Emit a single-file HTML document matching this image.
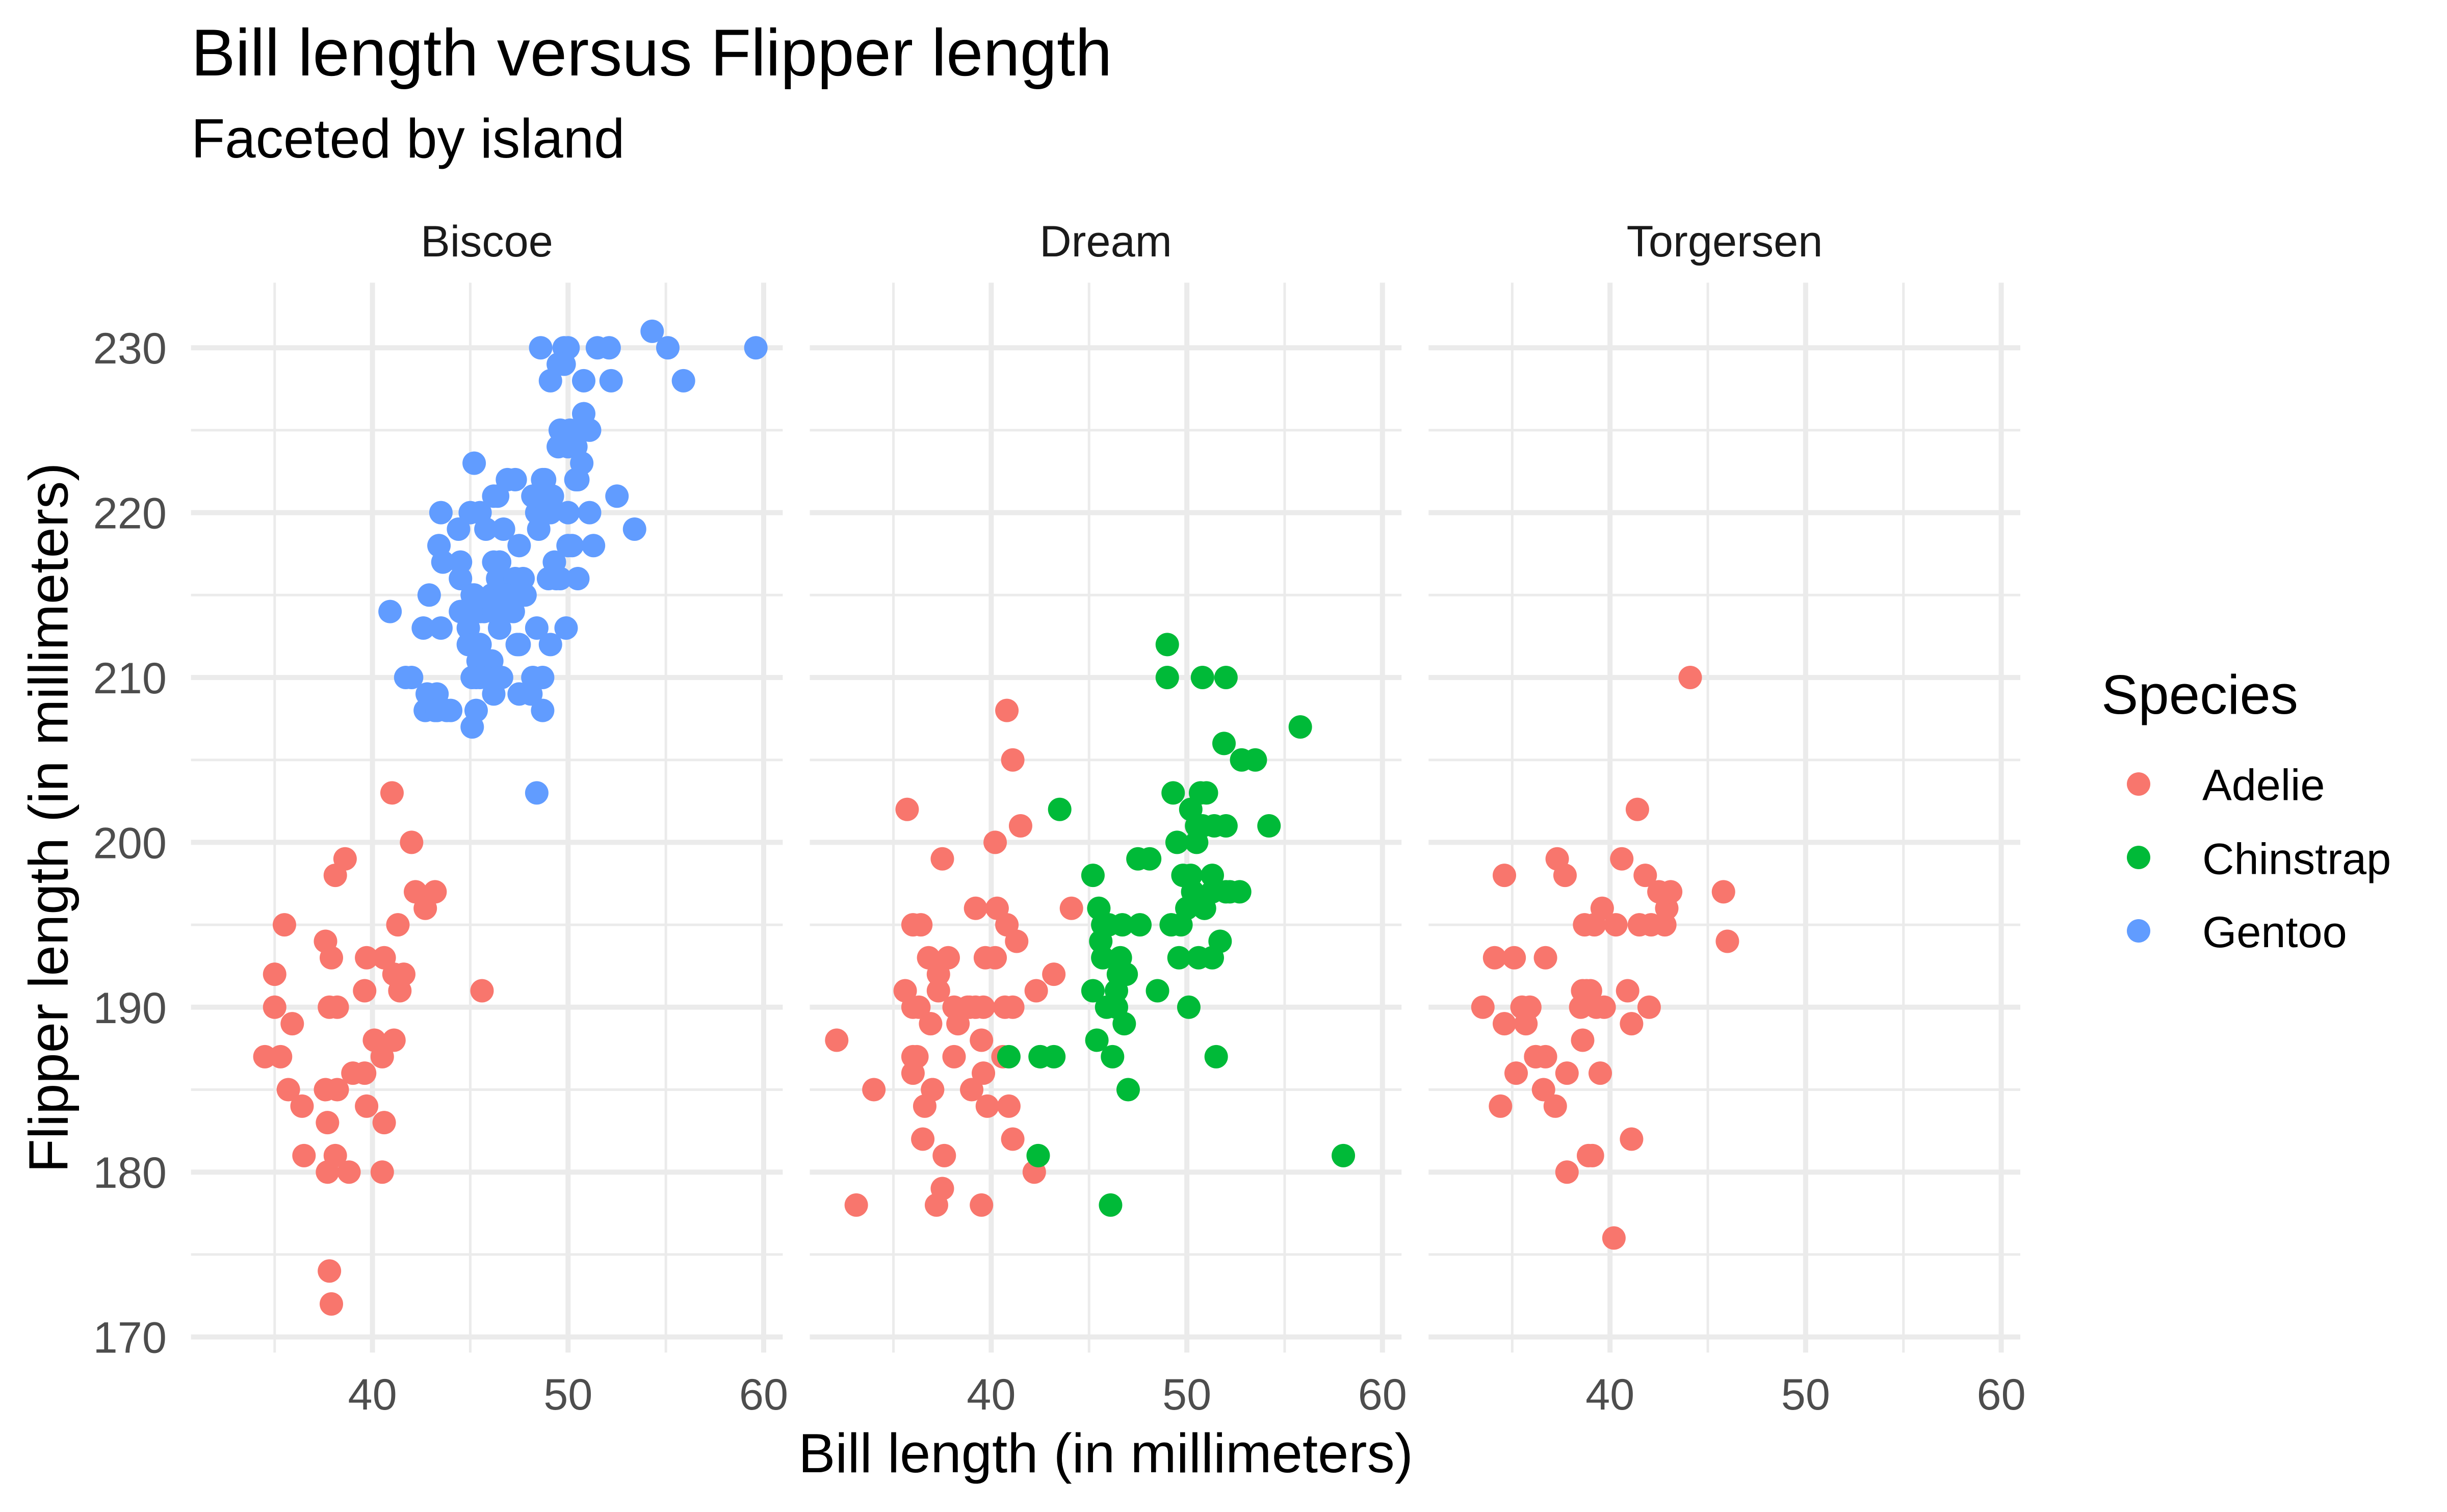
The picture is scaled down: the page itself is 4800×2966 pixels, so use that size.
<!DOCTYPE html>
<html>
<head>
<meta charset="utf-8">
<style>
html,body{margin:0;padding:0;background:#fff;}
svg{display:block;}
text{font-family:"Liberation Sans",Arial,Helvetica,sans-serif;}
</style>
</head>
<body>
<svg width="4800" height="2966" viewBox="0 0 4800 2966" xmlns="http://www.w3.org/2000/svg" xmlns:xlink="http://www.w3.org/1999/xlink">
<rect width="4800" height="2966" fill="#fff"/>
<defs>
<g id="grid" fill="none" stroke="#ebebeb">
<path stroke-width="5" d="M374.7 843.9H1535.4M374.7 1167.3H1535.4M374.7 1490.7H1535.4M374.7 1814.1H1535.4M374.7 2137.5H1535.4M374.7 2460.9H1535.4M538.75 554.5V2653.2M922.45 554.5V2653.2M1306.15 554.5V2653.2"/>
<path stroke-width="10" d="M374.7 682.2H1535.4M374.7 1005.6H1535.4M374.7 1329H1535.4M374.7 1652.4H1535.4M374.7 1975.8H1535.4M374.7 2299.2H1535.4M374.7 2622.6H1535.4M730.6 554.5V2653.2M1114.3 554.5V2653.2M1498 554.5V2653.2"/>
</g>
</defs>
<use href="#grid" xlink:href="#grid" x="0" y="0"/>
<use href="#grid" xlink:href="#grid" x="1213.8" y="0"/>
<use href="#grid" xlink:href="#grid" x="2427.6" y="0"/>

<text x="375" y="148" font-size="130" fill="#000">Bill length versus Flipper length</text>
<text x="375" y="309" font-size="108.5" fill="#000">Faceted by island</text>

<g font-size="86.5" fill="#1a1a1a" text-anchor="middle">
<text x="955" y="503">Biscoe</text>
<text x="2169" y="503">Dream</text>
<text x="3383" y="503">Torgersen</text>
</g>

<g font-size="86.5" fill="#4d4d4d" text-anchor="end">
<text x="327" y="713.2">230</text>
<text x="327" y="1036.6">220</text>
<text x="327" y="1360">210</text>
<text x="327" y="1683.4">200</text>
<text x="327" y="2006.8">190</text>
<text x="327" y="2330.2">180</text>
<text x="327" y="2653.6">170</text>
</g>

<g font-size="86.5" fill="#4d4d4d" text-anchor="middle">
<text x="730.6" y="2765">40</text>
<text x="1114.3" y="2765">50</text>
<text x="1498" y="2765">60</text>
<text x="1944.4" y="2765">40</text>
<text x="2328.1" y="2765">50</text>
<text x="2711.8" y="2765">60</text>
<text x="3158.2" y="2765">40</text>
<text x="3541.9" y="2765">50</text>
<text x="3925.6" y="2765">60</text>
</g>

<text x="2169" y="2888" font-size="108.5" fill="#000" text-anchor="middle">Bill length (in millimeters)</text>
<text transform="translate(132.7,1604) rotate(-90)" x="0" y="0" font-size="108.5" fill="#000" text-anchor="middle">Flipper length (in millimeters)</text>

<text x="4122" y="1400" font-size="108.5" fill="#000">Species</text>
<circle cx="4195" cy="1538" r="23" fill="#F8766D"/>
<circle cx="4195" cy="1682" r="23" fill="#00BA38"/>
<circle cx="4195" cy="1826" r="23" fill="#619CFF"/>
<g font-size="86.5" fill="#000">
<text x="4320" y="1569.6">Adelie</text>
<text x="4320" y="1714.3">Chinstrap</text>
<text x="4320" y="1858">Gentoo</text>
</g>

<g transform="matrix(38.37 0 0 -32.34 -804.2 8120.4)">
<g fill="#F8766D">
<ellipse cx="37.8" cy="174" rx=".5994" ry=".7112"/>
<ellipse cx="37.7" cy="180" rx=".5994" ry=".7112"/>
<ellipse cx="35.9" cy="189" rx=".5994" ry=".7112"/>
<ellipse cx="38.2" cy="185" rx=".5994" ry=".7112"/>
<ellipse cx="38.8" cy="180" rx=".5994" ry=".7112"/>
<ellipse cx="35.3" cy="187" rx=".5994" ry=".7112"/>
<ellipse cx="40.6" cy="183" rx=".5994" ry=".7112"/>
<ellipse cx="40.5" cy="187" rx=".5994" ry=".7112"/>
<ellipse cx="37.9" cy="172" rx=".5994" ry=".7112"/>
<ellipse cx="40.5" cy="180" rx=".5994" ry=".7112"/>
<ellipse cx="39.6" cy="186" rx=".5994" ry=".7112"/>
<ellipse cx="40.1" cy="188" rx=".5994" ry=".7112"/>
<ellipse cx="35.0" cy="190" rx=".5994" ry=".7112"/>
<ellipse cx="42.0" cy="200" rx=".5994" ry=".7112"/>
<ellipse cx="34.5" cy="187" rx=".5994" ry=".7112"/>
<ellipse cx="41.4" cy="191" rx=".5994" ry=".7112"/>
<ellipse cx="39.0" cy="186" rx=".5994" ry=".7112"/>
<ellipse cx="40.6" cy="193" rx=".5994" ry=".7112"/>
<ellipse cx="36.5" cy="181" rx=".5994" ry=".7112"/>
<ellipse cx="37.6" cy="194" rx=".5994" ry=".7112"/>
<ellipse cx="35.7" cy="185" rx=".5994" ry=".7112"/>
<ellipse cx="41.3" cy="195" rx=".5994" ry=".7112"/>
<ellipse cx="37.6" cy="185" rx=".5994" ry=".7112"/>
<ellipse cx="41.1" cy="192" rx=".5994" ry=".7112"/>
<ellipse cx="36.4" cy="184" rx=".5994" ry=".7112"/>
<ellipse cx="41.6" cy="192" rx=".5994" ry=".7112"/>
<ellipse cx="35.5" cy="195" rx=".5994" ry=".7112"/>
<ellipse cx="41.1" cy="188" rx=".5994" ry=".7112"/>
<ellipse cx="35.0" cy="192" rx=".5994" ry=".7112"/>
<ellipse cx="41.0" cy="203" rx=".5994" ry=".7112"/>
<ellipse cx="37.7" cy="183" rx=".5994" ry=".7112"/>
<ellipse cx="37.8" cy="190" rx=".5994" ry=".7112"/>
<ellipse cx="37.9" cy="193" rx=".5994" ry=".7112"/>
<ellipse cx="39.7" cy="184" rx=".5994" ry=".7112"/>
<ellipse cx="38.6" cy="199" rx=".5994" ry=".7112"/>
<ellipse cx="38.2" cy="190" rx=".5994" ry=".7112"/>
<ellipse cx="38.1" cy="181" rx=".5994" ry=".7112"/>
<ellipse cx="43.2" cy="197" rx=".5994" ry=".7112"/>
<ellipse cx="38.1" cy="198" rx=".5994" ry=".7112"/>
<ellipse cx="45.6" cy="191" rx=".5994" ry=".7112"/>
<ellipse cx="39.7" cy="193" rx=".5994" ry=".7112"/>
<ellipse cx="42.2" cy="197" rx=".5994" ry=".7112"/>
<ellipse cx="39.6" cy="191" rx=".5994" ry=".7112"/>
<ellipse cx="42.7" cy="196" rx=".5994" ry=".7112"/>
</g>
<g fill="#619CFF">
<ellipse cx="46.1" cy="211" rx=".5994" ry=".7112"/>
<ellipse cx="50.0" cy="230" rx=".5994" ry=".7112"/>
<ellipse cx="48.7" cy="210" rx=".5994" ry=".7112"/>
<ellipse cx="50.0" cy="218" rx=".5994" ry=".7112"/>
<ellipse cx="47.6" cy="215" rx=".5994" ry=".7112"/>
<ellipse cx="46.5" cy="210" rx=".5994" ry=".7112"/>
<ellipse cx="45.4" cy="211" rx=".5994" ry=".7112"/>
<ellipse cx="46.7" cy="219" rx=".5994" ry=".7112"/>
<ellipse cx="43.3" cy="209" rx=".5994" ry=".7112"/>
<ellipse cx="46.8" cy="215" rx=".5994" ry=".7112"/>
<ellipse cx="40.9" cy="214" rx=".5994" ry=".7112"/>
<ellipse cx="49.0" cy="216" rx=".5994" ry=".7112"/>
<ellipse cx="45.5" cy="214" rx=".5994" ry=".7112"/>
<ellipse cx="48.4" cy="213" rx=".5994" ry=".7112"/>
<ellipse cx="45.8" cy="210" rx=".5994" ry=".7112"/>
<ellipse cx="49.3" cy="217" rx=".5994" ry=".7112"/>
<ellipse cx="42.0" cy="210" rx=".5994" ry=".7112"/>
<ellipse cx="49.2" cy="221" rx=".5994" ry=".7112"/>
<ellipse cx="46.2" cy="209" rx=".5994" ry=".7112"/>
<ellipse cx="48.7" cy="222" rx=".5994" ry=".7112"/>
<ellipse cx="50.2" cy="218" rx=".5994" ry=".7112"/>
<ellipse cx="45.1" cy="215" rx=".5994" ry=".7112"/>
<ellipse cx="46.5" cy="213" rx=".5994" ry=".7112"/>
<ellipse cx="46.3" cy="215" rx=".5994" ry=".7112"/>
<ellipse cx="42.9" cy="215" rx=".5994" ry=".7112"/>
<ellipse cx="46.1" cy="215" rx=".5994" ry=".7112"/>
<ellipse cx="44.5" cy="216" rx=".5994" ry=".7112"/>
<ellipse cx="47.8" cy="215" rx=".5994" ry=".7112"/>
<ellipse cx="48.2" cy="210" rx=".5994" ry=".7112"/>
<ellipse cx="50.0" cy="220" rx=".5994" ry=".7112"/>
<ellipse cx="47.3" cy="222" rx=".5994" ry=".7112"/>
<ellipse cx="42.8" cy="209" rx=".5994" ry=".7112"/>
<ellipse cx="45.1" cy="207" rx=".5994" ry=".7112"/>
<ellipse cx="59.6" cy="230" rx=".5994" ry=".7112"/>
<ellipse cx="49.1" cy="220" rx=".5994" ry=".7112"/>
<ellipse cx="48.4" cy="220" rx=".5994" ry=".7112"/>
<ellipse cx="42.6" cy="213" rx=".5994" ry=".7112"/>
<ellipse cx="44.4" cy="219" rx=".5994" ry=".7112"/>
<ellipse cx="44.0" cy="208" rx=".5994" ry=".7112"/>
<ellipse cx="48.7" cy="208" rx=".5994" ry=".7112"/>
<ellipse cx="42.7" cy="208" rx=".5994" ry=".7112"/>
<ellipse cx="49.6" cy="225" rx=".5994" ry=".7112"/>
<ellipse cx="45.3" cy="210" rx=".5994" ry=".7112"/>
<ellipse cx="49.6" cy="216" rx=".5994" ry=".7112"/>
<ellipse cx="50.5" cy="222" rx=".5994" ry=".7112"/>
<ellipse cx="43.6" cy="217" rx=".5994" ry=".7112"/>
<ellipse cx="45.5" cy="210" rx=".5994" ry=".7112"/>
<ellipse cx="50.5" cy="225" rx=".5994" ry=".7112"/>
<ellipse cx="44.9" cy="213" rx=".5994" ry=".7112"/>
<ellipse cx="45.2" cy="215" rx=".5994" ry=".7112"/>
<ellipse cx="46.6" cy="210" rx=".5994" ry=".7112"/>
<ellipse cx="48.5" cy="220" rx=".5994" ry=".7112"/>
<ellipse cx="45.1" cy="210" rx=".5994" ry=".7112"/>
<ellipse cx="50.1" cy="225" rx=".5994" ry=".7112"/>
<ellipse cx="46.5" cy="217" rx=".5994" ry=".7112"/>
<ellipse cx="45.0" cy="220" rx=".5994" ry=".7112"/>
<ellipse cx="43.8" cy="208" rx=".5994" ry=".7112"/>
<ellipse cx="45.5" cy="220" rx=".5994" ry=".7112"/>
<ellipse cx="43.2" cy="208" rx=".5994" ry=".7112"/>
<ellipse cx="50.4" cy="224" rx=".5994" ry=".7112"/>
<ellipse cx="45.3" cy="208" rx=".5994" ry=".7112"/>
<ellipse cx="46.2" cy="221" rx=".5994" ry=".7112"/>
<ellipse cx="45.7" cy="214" rx=".5994" ry=".7112"/>
<ellipse cx="54.3" cy="231" rx=".5994" ry=".7112"/>
<ellipse cx="45.8" cy="219" rx=".5994" ry=".7112"/>
<ellipse cx="49.8" cy="230" rx=".5994" ry=".7112"/>
<ellipse cx="46.2" cy="214" rx=".5994" ry=".7112"/>
<ellipse cx="49.5" cy="229" rx=".5994" ry=".7112"/>
<ellipse cx="43.5" cy="220" rx=".5994" ry=".7112"/>
<ellipse cx="50.7" cy="223" rx=".5994" ry=".7112"/>
<ellipse cx="47.7" cy="216" rx=".5994" ry=".7112"/>
<ellipse cx="46.4" cy="221" rx=".5994" ry=".7112"/>
<ellipse cx="48.2" cy="221" rx=".5994" ry=".7112"/>
<ellipse cx="46.5" cy="217" rx=".5994" ry=".7112"/>
<ellipse cx="46.4" cy="216" rx=".5994" ry=".7112"/>
<ellipse cx="48.6" cy="230" rx=".5994" ry=".7112"/>
<ellipse cx="47.5" cy="209" rx=".5994" ry=".7112"/>
<ellipse cx="51.1" cy="220" rx=".5994" ry=".7112"/>
<ellipse cx="45.2" cy="215" rx=".5994" ry=".7112"/>
<ellipse cx="45.2" cy="223" rx=".5994" ry=".7112"/>
<ellipse cx="49.1" cy="212" rx=".5994" ry=".7112"/>
<ellipse cx="52.5" cy="221" rx=".5994" ry=".7112"/>
<ellipse cx="47.4" cy="212" rx=".5994" ry=".7112"/>
<ellipse cx="50.0" cy="224" rx=".5994" ry=".7112"/>
<ellipse cx="44.9" cy="212" rx=".5994" ry=".7112"/>
<ellipse cx="50.8" cy="228" rx=".5994" ry=".7112"/>
<ellipse cx="43.4" cy="218" rx=".5994" ry=".7112"/>
<ellipse cx="51.3" cy="218" rx=".5994" ry=".7112"/>
<ellipse cx="47.5" cy="212" rx=".5994" ry=".7112"/>
<ellipse cx="52.1" cy="230" rx=".5994" ry=".7112"/>
<ellipse cx="47.5" cy="218" rx=".5994" ry=".7112"/>
<ellipse cx="52.2" cy="228" rx=".5994" ry=".7112"/>
<ellipse cx="45.5" cy="212" rx=".5994" ry=".7112"/>
<ellipse cx="49.5" cy="224" rx=".5994" ry=".7112"/>
<ellipse cx="44.5" cy="214" rx=".5994" ry=".7112"/>
<ellipse cx="50.8" cy="226" rx=".5994" ry=".7112"/>
<ellipse cx="49.4" cy="216" rx=".5994" ry=".7112"/>
<ellipse cx="46.9" cy="222" rx=".5994" ry=".7112"/>
<ellipse cx="48.4" cy="203" rx=".5994" ry=".7112"/>
<ellipse cx="51.1" cy="225" rx=".5994" ry=".7112"/>
<ellipse cx="48.5" cy="219" rx=".5994" ry=".7112"/>
<ellipse cx="55.9" cy="228" rx=".5994" ry=".7112"/>
<ellipse cx="47.2" cy="215" rx=".5994" ry=".7112"/>
<ellipse cx="49.1" cy="228" rx=".5994" ry=".7112"/>
<ellipse cx="47.3" cy="216" rx=".5994" ry=".7112"/>
<ellipse cx="46.8" cy="215" rx=".5994" ry=".7112"/>
<ellipse cx="41.7" cy="210" rx=".5994" ry=".7112"/>
<ellipse cx="53.4" cy="219" rx=".5994" ry=".7112"/>
<ellipse cx="43.3" cy="208" rx=".5994" ry=".7112"/>
<ellipse cx="48.1" cy="209" rx=".5994" ry=".7112"/>
<ellipse cx="50.5" cy="216" rx=".5994" ry=".7112"/>
<ellipse cx="49.8" cy="229" rx=".5994" ry=".7112"/>
<ellipse cx="43.5" cy="213" rx=".5994" ry=".7112"/>
<ellipse cx="51.5" cy="230" rx=".5994" ry=".7112"/>
<ellipse cx="46.2" cy="217" rx=".5994" ry=".7112"/>
<ellipse cx="55.1" cy="230" rx=".5994" ry=".7112"/>
<ellipse cx="44.5" cy="217" rx=".5994" ry=".7112"/>
<ellipse cx="48.8" cy="222" rx=".5994" ry=".7112"/>
<ellipse cx="47.2" cy="214" rx=".5994" ry=".7112"/>
<ellipse cx="46.8" cy="215" rx=".5994" ry=".7112"/>
<ellipse cx="50.4" cy="222" rx=".5994" ry=".7112"/>
<ellipse cx="45.2" cy="212" rx=".5994" ry=".7112"/>
<ellipse cx="49.9" cy="213" rx=".5994" ry=".7112"/>
</g>
</g>

<g transform="matrix(38.37 0 0 -32.34 409.6 8120.4)">
<g fill="#F8766D">
<ellipse cx="39.5" cy="178" rx=".5994" ry=".7112"/>
<ellipse cx="37.2" cy="178" rx=".5994" ry=".7112"/>
<ellipse cx="39.5" cy="188" rx=".5994" ry=".7112"/>
<ellipse cx="40.9" cy="184" rx=".5994" ry=".7112"/>
<ellipse cx="36.4" cy="195" rx=".5994" ry=".7112"/>
<ellipse cx="39.2" cy="196" rx=".5994" ry=".7112"/>
<ellipse cx="38.8" cy="190" rx=".5994" ry=".7112"/>
<ellipse cx="42.2" cy="180" rx=".5994" ry=".7112"/>
<ellipse cx="37.6" cy="181" rx=".5994" ry=".7112"/>
<ellipse cx="39.8" cy="184" rx=".5994" ry=".7112"/>
<ellipse cx="36.5" cy="182" rx=".5994" ry=".7112"/>
<ellipse cx="40.8" cy="195" rx=".5994" ry=".7112"/>
<ellipse cx="36.0" cy="186" rx=".5994" ry=".7112"/>
<ellipse cx="44.1" cy="196" rx=".5994" ry=".7112"/>
<ellipse cx="37.0" cy="185" rx=".5994" ry=".7112"/>
<ellipse cx="39.6" cy="190" rx=".5994" ry=".7112"/>
<ellipse cx="41.1" cy="182" rx=".5994" ry=".7112"/>
<ellipse cx="37.5" cy="179" rx=".5994" ry=".7112"/>
<ellipse cx="36.0" cy="190" rx=".5994" ry=".7112"/>
<ellipse cx="42.3" cy="191" rx=".5994" ry=".7112"/>
<ellipse cx="37.3" cy="192" rx=".5994" ry=".7112"/>
<ellipse cx="41.3" cy="194" rx=".5994" ry=".7112"/>
<ellipse cx="36.3" cy="190" rx=".5994" ry=".7112"/>
<ellipse cx="36.9" cy="189" rx=".5994" ry=".7112"/>
<ellipse cx="38.3" cy="189" rx=".5994" ry=".7112"/>
<ellipse cx="38.9" cy="190" rx=".5994" ry=".7112"/>
<ellipse cx="35.7" cy="202" rx=".5994" ry=".7112"/>
<ellipse cx="41.1" cy="205" rx=".5994" ry=".7112"/>
<ellipse cx="34.0" cy="185" rx=".5994" ry=".7112"/>
<ellipse cx="39.6" cy="186" rx=".5994" ry=".7112"/>
<ellipse cx="36.2" cy="187" rx=".5994" ry=".7112"/>
<ellipse cx="40.8" cy="208" rx=".5994" ry=".7112"/>
<ellipse cx="38.1" cy="190" rx=".5994" ry=".7112"/>
<ellipse cx="40.3" cy="196" rx=".5994" ry=".7112"/>
<ellipse cx="33.1" cy="178" rx=".5994" ry=".7112"/>
<ellipse cx="43.2" cy="192" rx=".5994" ry=".7112"/>
<ellipse cx="36.8" cy="193" rx=".5994" ry=".7112"/>
<ellipse cx="37.5" cy="199" rx=".5994" ry=".7112"/>
<ellipse cx="38.1" cy="187" rx=".5994" ry=".7112"/>
<ellipse cx="41.1" cy="190" rx=".5994" ry=".7112"/>
<ellipse cx="35.6" cy="191" rx=".5994" ry=".7112"/>
<ellipse cx="40.2" cy="200" rx=".5994" ry=".7112"/>
<ellipse cx="37.0" cy="185" rx=".5994" ry=".7112"/>
<ellipse cx="39.7" cy="193" rx=".5994" ry=".7112"/>
<ellipse cx="40.2" cy="193" rx=".5994" ry=".7112"/>
<ellipse cx="40.6" cy="187" rx=".5994" ry=".7112"/>
<ellipse cx="32.1" cy="188" rx=".5994" ry=".7112"/>
<ellipse cx="40.7" cy="190" rx=".5994" ry=".7112"/>
<ellipse cx="37.3" cy="191" rx=".5994" ry=".7112"/>
<ellipse cx="39.0" cy="185" rx=".5994" ry=".7112"/>
<ellipse cx="39.2" cy="190" rx=".5994" ry=".7112"/>
<ellipse cx="36.6" cy="184" rx=".5994" ry=".7112"/>
<ellipse cx="36.0" cy="195" rx=".5994" ry=".7112"/>
<ellipse cx="37.8" cy="193" rx=".5994" ry=".7112"/>
<ellipse cx="36.0" cy="187" rx=".5994" ry=".7112"/>
<ellipse cx="41.5" cy="201" rx=".5994" ry=".7112"/>
</g>
<g fill="#00BA38">
<ellipse cx="46.5" cy="192" rx=".5994" ry=".7112"/>
<ellipse cx="50.0" cy="196" rx=".5994" ry=".7112"/>
<ellipse cx="51.3" cy="193" rx=".5994" ry=".7112"/>
<ellipse cx="45.4" cy="188" rx=".5994" ry=".7112"/>
<ellipse cx="52.7" cy="197" rx=".5994" ry=".7112"/>
<ellipse cx="45.2" cy="198" rx=".5994" ry=".7112"/>
<ellipse cx="46.1" cy="178" rx=".5994" ry=".7112"/>
<ellipse cx="51.3" cy="197" rx=".5994" ry=".7112"/>
<ellipse cx="46.0" cy="195" rx=".5994" ry=".7112"/>
<ellipse cx="51.3" cy="198" rx=".5994" ry=".7112"/>
<ellipse cx="46.6" cy="193" rx=".5994" ry=".7112"/>
<ellipse cx="51.7" cy="194" rx=".5994" ry=".7112"/>
<ellipse cx="47.0" cy="185" rx=".5994" ry=".7112"/>
<ellipse cx="52.0" cy="201" rx=".5994" ry=".7112"/>
<ellipse cx="45.9" cy="190" rx=".5994" ry=".7112"/>
<ellipse cx="50.5" cy="201" rx=".5994" ry=".7112"/>
<ellipse cx="50.3" cy="197" rx=".5994" ry=".7112"/>
<ellipse cx="58.0" cy="181" rx=".5994" ry=".7112"/>
<ellipse cx="46.4" cy="190" rx=".5994" ry=".7112"/>
<ellipse cx="49.2" cy="195" rx=".5994" ry=".7112"/>
<ellipse cx="42.4" cy="181" rx=".5994" ry=".7112"/>
<ellipse cx="48.5" cy="191" rx=".5994" ry=".7112"/>
<ellipse cx="43.2" cy="187" rx=".5994" ry=".7112"/>
<ellipse cx="50.6" cy="193" rx=".5994" ry=".7112"/>
<ellipse cx="46.7" cy="195" rx=".5994" ry=".7112"/>
<ellipse cx="52.0" cy="197" rx=".5994" ry=".7112"/>
<ellipse cx="50.5" cy="200" rx=".5994" ry=".7112"/>
<ellipse cx="49.5" cy="200" rx=".5994" ry=".7112"/>
<ellipse cx="46.4" cy="191" rx=".5994" ry=".7112"/>
<ellipse cx="52.8" cy="205" rx=".5994" ry=".7112"/>
<ellipse cx="40.9" cy="187" rx=".5994" ry=".7112"/>
<ellipse cx="54.2" cy="201" rx=".5994" ry=".7112"/>
<ellipse cx="42.5" cy="187" rx=".5994" ry=".7112"/>
<ellipse cx="51.0" cy="203" rx=".5994" ry=".7112"/>
<ellipse cx="49.7" cy="195" rx=".5994" ry=".7112"/>
<ellipse cx="47.5" cy="199" rx=".5994" ry=".7112"/>
<ellipse cx="47.6" cy="195" rx=".5994" ry=".7112"/>
<ellipse cx="52.0" cy="210" rx=".5994" ry=".7112"/>
<ellipse cx="46.9" cy="192" rx=".5994" ry=".7112"/>
<ellipse cx="53.5" cy="205" rx=".5994" ry=".7112"/>
<ellipse cx="49.0" cy="210" rx=".5994" ry=".7112"/>
<ellipse cx="46.2" cy="187" rx=".5994" ry=".7112"/>
<ellipse cx="50.9" cy="196" rx=".5994" ry=".7112"/>
<ellipse cx="45.5" cy="196" rx=".5994" ry=".7112"/>
<ellipse cx="50.9" cy="196" rx=".5994" ry=".7112"/>
<ellipse cx="50.8" cy="201" rx=".5994" ry=".7112"/>
<ellipse cx="50.1" cy="190" rx=".5994" ry=".7112"/>
<ellipse cx="49.0" cy="212" rx=".5994" ry=".7112"/>
<ellipse cx="51.5" cy="187" rx=".5994" ry=".7112"/>
<ellipse cx="49.8" cy="198" rx=".5994" ry=".7112"/>
<ellipse cx="48.1" cy="199" rx=".5994" ry=".7112"/>
<ellipse cx="51.4" cy="201" rx=".5994" ry=".7112"/>
<ellipse cx="45.7" cy="193" rx=".5994" ry=".7112"/>
<ellipse cx="50.7" cy="203" rx=".5994" ry=".7112"/>
<ellipse cx="42.5" cy="187" rx=".5994" ry=".7112"/>
<ellipse cx="52.2" cy="197" rx=".5994" ry=".7112"/>
<ellipse cx="45.2" cy="191" rx=".5994" ry=".7112"/>
<ellipse cx="49.3" cy="203" rx=".5994" ry=".7112"/>
<ellipse cx="50.2" cy="202" rx=".5994" ry=".7112"/>
<ellipse cx="45.6" cy="194" rx=".5994" ry=".7112"/>
<ellipse cx="51.9" cy="206" rx=".5994" ry=".7112"/>
<ellipse cx="46.8" cy="189" rx=".5994" ry=".7112"/>
<ellipse cx="45.7" cy="195" rx=".5994" ry=".7112"/>
<ellipse cx="55.8" cy="207" rx=".5994" ry=".7112"/>
<ellipse cx="43.5" cy="202" rx=".5994" ry=".7112"/>
<ellipse cx="49.6" cy="193" rx=".5994" ry=".7112"/>
<ellipse cx="50.8" cy="210" rx=".5994" ry=".7112"/>
<ellipse cx="50.2" cy="198" rx=".5994" ry=".7112"/>
</g>
</g>

<g transform="matrix(38.37 0 0 -32.34 1623.4 8120.4)">
<g fill="#F8766D">
<ellipse cx="39.1" cy="181" rx=".5994" ry=".7112"/>
<ellipse cx="39.5" cy="186" rx=".5994" ry=".7112"/>
<ellipse cx="40.3" cy="195" rx=".5994" ry=".7112"/>
<ellipse cx="36.7" cy="193" rx=".5994" ry=".7112"/>
<ellipse cx="39.3" cy="190" rx=".5994" ry=".7112"/>
<ellipse cx="38.9" cy="181" rx=".5994" ry=".7112"/>
<ellipse cx="39.2" cy="195" rx=".5994" ry=".7112"/>
<ellipse cx="34.1" cy="193" rx=".5994" ry=".7112"/>
<ellipse cx="42.0" cy="190" rx=".5994" ry=".7112"/>
<ellipse cx="37.8" cy="186" rx=".5994" ry=".7112"/>
<ellipse cx="37.8" cy="180" rx=".5994" ry=".7112"/>
<ellipse cx="41.1" cy="182" rx=".5994" ry=".7112"/>
<ellipse cx="38.6" cy="191" rx=".5994" ry=".7112"/>
<ellipse cx="34.6" cy="198" rx=".5994" ry=".7112"/>
<ellipse cx="36.6" cy="185" rx=".5994" ry=".7112"/>
<ellipse cx="38.7" cy="195" rx=".5994" ry=".7112"/>
<ellipse cx="42.5" cy="197" rx=".5994" ry=".7112"/>
<ellipse cx="34.4" cy="184" rx=".5994" ry=".7112"/>
<ellipse cx="46.0" cy="194" rx=".5994" ry=".7112"/>
<ellipse cx="35.9" cy="190" rx=".5994" ry=".7112"/>
<ellipse cx="41.8" cy="198" rx=".5994" ry=".7112"/>
<ellipse cx="33.5" cy="190" rx=".5994" ry=".7112"/>
<ellipse cx="39.7" cy="190" rx=".5994" ry=".7112"/>
<ellipse cx="39.6" cy="196" rx=".5994" ry=".7112"/>
<ellipse cx="45.8" cy="197" rx=".5994" ry=".7112"/>
<ellipse cx="35.5" cy="190" rx=".5994" ry=".7112"/>
<ellipse cx="42.8" cy="195" rx=".5994" ry=".7112"/>
<ellipse cx="40.9" cy="191" rx=".5994" ry=".7112"/>
<ellipse cx="37.2" cy="184" rx=".5994" ry=".7112"/>
<ellipse cx="36.2" cy="187" rx=".5994" ry=".7112"/>
<ellipse cx="42.1" cy="195" rx=".5994" ry=".7112"/>
<ellipse cx="34.6" cy="189" rx=".5994" ry=".7112"/>
<ellipse cx="42.9" cy="196" rx=".5994" ry=".7112"/>
<ellipse cx="36.7" cy="187" rx=".5994" ry=".7112"/>
<ellipse cx="35.1" cy="193" rx=".5994" ry=".7112"/>
<ellipse cx="38.6" cy="188" rx=".5994" ry=".7112"/>
<ellipse cx="37.3" cy="199" rx=".5994" ry=".7112"/>
<ellipse cx="35.7" cy="189" rx=".5994" ry=".7112"/>
<ellipse cx="41.1" cy="189" rx=".5994" ry=".7112"/>
<ellipse cx="36.2" cy="187" rx=".5994" ry=".7112"/>
<ellipse cx="37.7" cy="198" rx=".5994" ry=".7112"/>
<ellipse cx="40.2" cy="176" rx=".5994" ry=".7112"/>
<ellipse cx="41.4" cy="202" rx=".5994" ry=".7112"/>
<ellipse cx="35.2" cy="186" rx=".5994" ry=".7112"/>
<ellipse cx="40.6" cy="199" rx=".5994" ry=".7112"/>
<ellipse cx="38.8" cy="191" rx=".5994" ry=".7112"/>
<ellipse cx="41.5" cy="195" rx=".5994" ry=".7112"/>
<ellipse cx="39.0" cy="191" rx=".5994" ry=".7112"/>
<ellipse cx="44.1" cy="210" rx=".5994" ry=".7112"/>
<ellipse cx="38.5" cy="190" rx=".5994" ry=".7112"/>
<ellipse cx="43.1" cy="197" rx=".5994" ry=".7112"/>
</g>
</g>
</svg>
</body>
</html>
